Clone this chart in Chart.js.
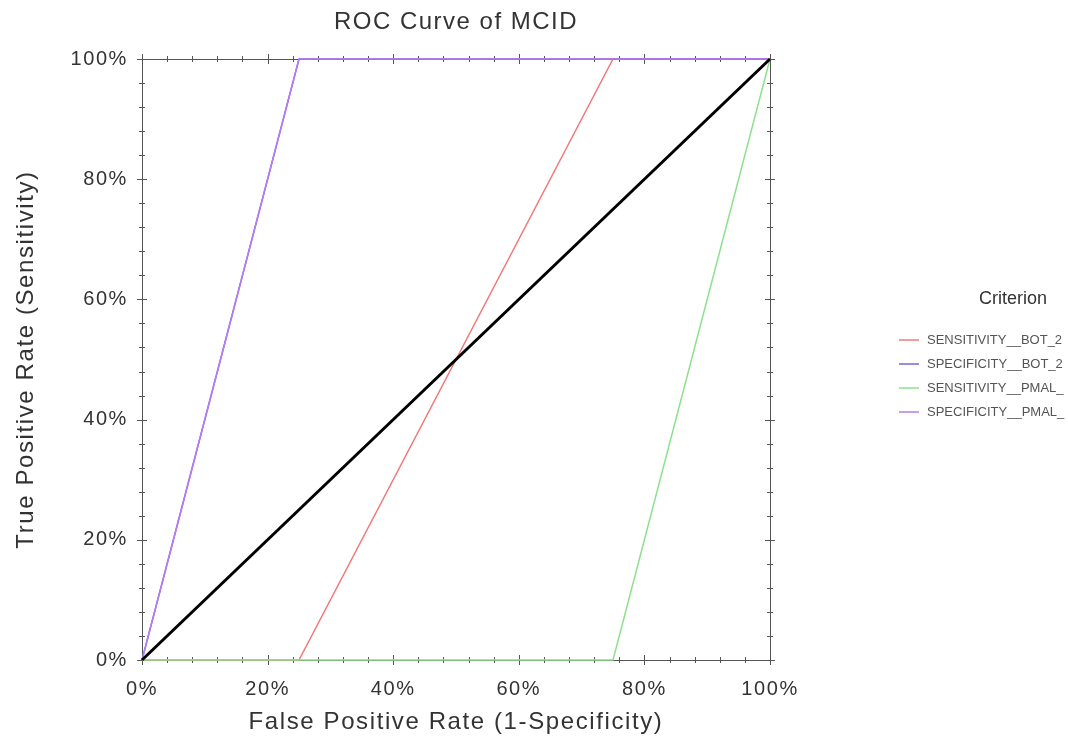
<!DOCTYPE html>
<html>
<head>
<meta charset="utf-8">
<script src="https://cdn.jsdelivr.net/npm/chart.js@4"></script>
<style>
  html, body { margin: 0; padding: 0; background: #fff; }
  #wrap { width: 1068px; height: 744px; }
</style>
</head>
<body>
<div id="wrap"><canvas id="roc"></canvas></div>
<script>
// data, in percent
var seriesNames = ["SENSITIVITY__BOT_2", "SPECIFICITY__BOT_2", "SENSITIVITY__PMAL_", "SPECIFICITY__PMAL_"];
var seriesColors = ["#f07a7a", "#7a64d8", "#8ee08e", "#b77af2"];
var sensBot2X = [0, 25, 75, 100];
var sensBot2Y = [0, 0, 100, 100];
var specBot2X = [0, 25, 100];
var specBot2Y = [0, 100, 100];
var sensPmalX = [0, 75, 100];
var sensPmalY = [0, 0, 100];
var specPmalX = [0, 25, 100];
var specPmalY = [0, 100, 100];
var diagX = [0, 100];
var diagY = [0, 100];
var tickLabels = ["0%", "20%", "40%", "60%", "80%", "100%"];

function pts(xs, ys) {
  return xs.map(function (x, i) { return { x: x, y: ys[i] }; });
}

var FONT = "'Liberation Sans', Arial, sans-serif";

// frame + ticks under the lines, title and legend on top
var decor = {
  id: 'decor',
  beforeDraw: function (chart) {
    chart.ctx.letterSpacing = '1.6px';
  },
  beforeDatasetsDraw: function (chart) {
    var c = chart.ctx, a = chart.chartArea;
    var xs = chart.scales.x, ys = chart.scales.y;
    c.save();
    c.strokeStyle = '#555';
    c.lineWidth = 1;
    c.strokeRect(a.left + 0.5, a.top + 0.5, a.right - a.left, a.bottom - a.top);
    c.beginPath();
    for (var v = 0; v <= 100; v += 4) {
      var len = v % 20 === 0 ? 5 : 3;
      var px = Math.round(xs.getPixelForValue(v)) + 0.5;
      var py = Math.round(ys.getPixelForValue(v)) + 0.5;
      c.moveTo(px, a.bottom - len); c.lineTo(px, a.bottom + len);
      c.moveTo(px, a.top - len); c.lineTo(px, a.top + len);
      c.moveTo(a.left - len, py); c.lineTo(a.left + len, py);
      c.moveTo(a.right - len, py); c.lineTo(a.right + len, py);
    }
    c.stroke();
    c.restore();
  },
  afterDraw: function (chart) {
    var c = chart.ctx, a = chart.chartArea;
    c.save();
    c.fillStyle = '#333';
    c.letterSpacing = '1.5px';
    c.font = '24px ' + FONT;
    c.textAlign = 'center';
    c.textBaseline = 'middle';
    c.fillText('ROC Curve of MCID', (a.left + a.right) / 2, 22);

    c.letterSpacing = '0px';
    c.font = '18px ' + FONT;
    c.fillText('Criterion', 1013, 299);
    c.font = '13px ' + FONT;
    c.textAlign = 'left';
    c.fillStyle = '#555';
    for (var i = 0; i < seriesNames.length; i++) {
      var y = 340 + i * 24;
      c.strokeStyle = seriesColors[i];
      c.lineWidth = 1.5;
      c.beginPath(); c.moveTo(899, y); c.lineTo(919, y); c.stroke();
      c.fillText(seriesNames[i], 927, y);
    }
    c.restore();
    c.letterSpacing = '0px';
  }
};

function line(label, data, color, width, order) {
  return {
    label: label, data: data, borderColor: color, backgroundColor: color,
    borderWidth: width, showLine: true, pointRadius: 0, fill: false,
    tension: 0, order: order, clip: 4
  };
}

new Chart(document.getElementById('roc'), {
  type: 'scatter',
  data: {
    datasets: [
      line('diag', pts(diagX, diagY), '#000', 3, 0),
      line(seriesNames[0], pts(sensBot2X, sensBot2Y), seriesColors[0], 1.5, 4),
      line(seriesNames[1], pts(specBot2X, specBot2Y), seriesColors[1], 1.5, 3),
      line(seriesNames[2], pts(sensPmalX, sensPmalY), seriesColors[2], 1.5, 2),
      line(seriesNames[3], pts(specPmalX, specPmalY), seriesColors[3], 1.5, 1)
    ]
  },
  options: {
    responsive: true,
    maintainAspectRatio: false,
    animation: false,
    layout: { padding: { left: 0, right: 298, top: 59, bottom: 0 } },
    plugins: { legend: { display: false }, title: { display: false }, tooltip: { enabled: false } },
    scales: {
      x: {
        type: 'linear', min: 0, max: 100,
        grid: { display: false }, border: { display: false },
        afterBuildTicks: function (s) { s.ticks = [0, 20, 40, 60, 80, 100].map(function (v) { return { value: v }; }); },
        afterFit: function (s) { s.height = 84; },
        ticks: {
          padding: 9, color: '#333', font: { size: 20, family: FONT },
          callback: function (v) { return tickLabels[v / 20]; }
        },
        title: { display: true, text: 'False Positive Rate (1-Specificity)', color: '#333',
          font: { size: 24, family: FONT }, padding: { top: 0, bottom: 7 } }
      },
      y: {
        type: 'linear', min: 0, max: 100,
        grid: { display: false }, border: { display: false },
        afterBuildTicks: function (s) { s.ticks = [0, 20, 40, 60, 80, 100].map(function (v) { return { value: v }; }); },
        afterFit: function (s) { s.width = 142; },
        ticks: {
          padding: 6, color: '#333', font: { size: 20, family: FONT },
          callback: function (v) { return tickLabels[v / 20]; }
        },
        title: { display: true, text: 'True Positive Rate (Sensitivity)', color: '#333',
          font: { size: 24, family: FONT }, padding: { top: 12, bottom: 0 } }
      }
    }
  },
  plugins: [decor]
});
</script>
</body>
</html>
